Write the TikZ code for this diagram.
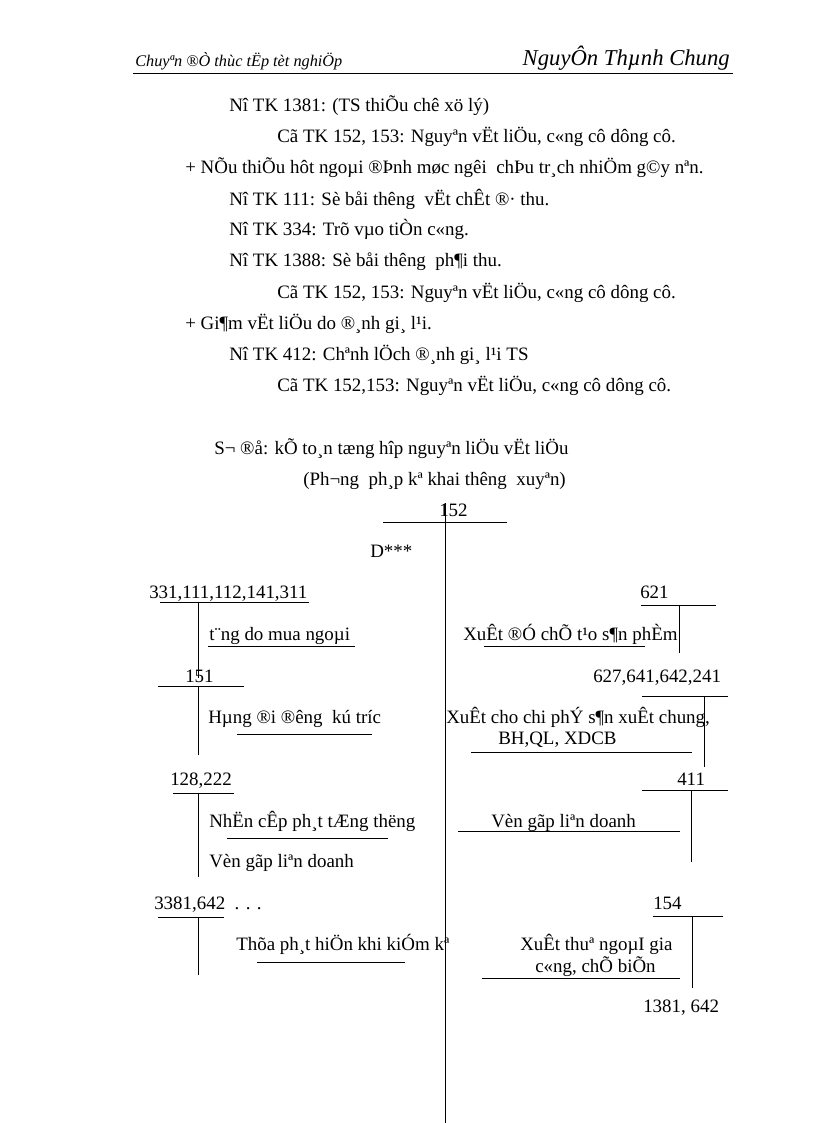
\documentclass[tikz,border=0pt]{standalone}
\usepackage{fontspec}
\setmainfont{Liberation Serif}

\begin{document}
\begin{tikzpicture}[
  x=0.75pt,y=-0.75pt,
  font=\fontsize{14.2}{16}\selectfont,
  txt/.style={anchor=base west,inner sep=0pt},
  rtxt/.style={anchor=base east,inner sep=0pt},
  rule/.style={line width=0.6pt},
  account/.style={line width=0.7pt},
  every node/.style={align=left}]

  \useasboundingbox (0,0) rectangle (816,1123);

  % Page header with its rule
  \node[txt,font=\itshape\fontsize{12.2}{14}\selectfont] (hdrL) at (135,67) {Chuyªn ®Ò thùc tËp tèt nghiÖp};
  \node[rtxt,font=\itshape\fontsize{17}{19}\selectfont] (hdrR) at (730,66) {NguyÔn Thµnh Chung};
  \draw[rule] (133,73) -- (733,73);

  % Journal entries
  \node[txt] (e1) at (229,112) {Nî TK 1381: (TS thiÕu chê xö lý)};
  \node[txt] (e2) at (277,143) {Cã TK 152, 153: Nguyªn vËt liÖu,\ c«ng cô dông cô.};
  \node[txt] (e3) at (185,174) {+ NÕu thiÕu hôt ngoµi ®Þnh møc ngêi\ \ chÞu tr¸ch nhiÖm g©y nªn.};
  \node[txt] (e4) at (229,205) {Nî TK 111: Sè båi thêng\ \ vËt chÊt ®· thu.};
  \node[txt] (e5) at (229,236) {Nî TK 334: Trõ vµo tiÒn c«ng.};
  \node[txt] (e6) at (229,267) {Nî TK 1388: Sè båi thêng\ \ ph¶i thu.};
  \node[txt] (e7) at (277,298) {Cã TK 152, 153: Nguyªn vËt liÖu,\ c«ng cô dông cô.};
  \node[txt] (e8) at (185,329) {+ Gi¶m vËt liÖu do ®¸nh gi¸ l¹i.};
  \node[txt] (e9) at (229,360) {Nî TK 412: Chªnh lÖch ®¸nh gi¸ l¹i TS};
  \node[txt] (e10) at (277,391) {Cã TK 152,153: Nguyªn vËt liÖu,\ c«ng cô dông cô.};

  % Title of the chart
  \node[txt] (title) at (214,454) {S¬ ®å: kÕ to¸n tæng hîp nguyªn liÖu vËt liÖu};
  \node[txt] (subtitle) at (303,485) {(Ph¬ng\ \ ph¸p kª khai thêng\ \ xuyªn)};

  % Main account 152
  \node[txt] (acc152) at (439,516) {152};
  \node[txt] (debit) at (370,557) {D***};
  \draw[account] (383,522) -- (507,522);
  \draw[account] (445,503) -- (445,1123);

  % Left side: increases
  \node[txt] (accA) at (149,598) {331,111,112,141,311};
  \node[txt] (txtA) at (209,640) {t¨ng do mua ngoµi};
  \draw[account] (160,602) -- (309,602) (198,602) -- (198,678);
  \draw[rule] (208,646) -- (355,646);

  \node[txt] (accB) at (185,682) {151};
  \node[txt] (txtB) at (208,723) {Hµng ®i ®êng\ \ kú tríc};
  \draw[account] (158,686) -- (244,686) (198,686) -- (198,755);
  \draw[rule] (237,734) -- (372,734);

  \node[txt] (accC) at (170,785) {128,222};
  \node[txt] (txtC) at (209,827) {NhËn cÊp ph¸t tÆng thëng};
  \node[txt] (txtCb) at (209,867) {Vèn gãp liªn doanh};
  \draw[account] (173,793) -- (234,793) (198,793) -- (198,877);
  \draw[rule] (227,838) -- (388,838);

  \node[txt] (accD) at (154,909) {3381,642\ \ . . .};
  \node[txt] (txtD) at (236,950) {Thõa ph¸t hiÖn khi kiÓm kª};
  \draw[account] (158,917) -- (224,917) (198,917) -- (198,975);
  \draw[rule] (257,962) -- (405,962);

  % Right side: decreases
  \node[txt] (accE) at (640,598) {621};
  \node[txt] (txtE) at (463,640) {XuÊt ®Ó chÕ t¹o s¶n phÈm};
  \draw[account] (641,605) -- (716,605) (679,605) -- (679,653);
  \draw[rule] (484,646) -- (645,646);

  \node[txt] (accF) at (593,682) {627,641,642,241};
  \node[txt] (txtF) at (446,723) {XuÊt cho chi phÝ s¶n xuÊt chung,};
  \node[txt] (txtFb) at (498,744) {BH,QL, XDCB};
  \draw[account] (642,696) -- (728,696) (704,696) -- (704,767);
  \draw[rule] (471,752) -- (692,752);

  \node[txt] (accG) at (677,785) {411};
  \node[txt] (txtG) at (491,827) {Vèn gãp liªn doanh};
  \draw[account] (642,790) -- (728,790) (691,790) -- (691,862);
  \draw[rule] (458,831) -- (680,831);

  \node[txt] (accH) at (653,909) {154};
  \node[txt] (txtH) at (520,950) {XuÊt thuª ngoµI gia};
  \node[txt] (txtHb) at (535,972) {c«ng, chÕ biÕn};
  \node[txt] (accHb) at (643,1012) {1381, 642};
  \draw[account] (653,916) -- (723,916) (692,916) -- (692,988);
  \draw[rule] (482,978) -- (680,978);
\end{tikzpicture}
\end{document}
